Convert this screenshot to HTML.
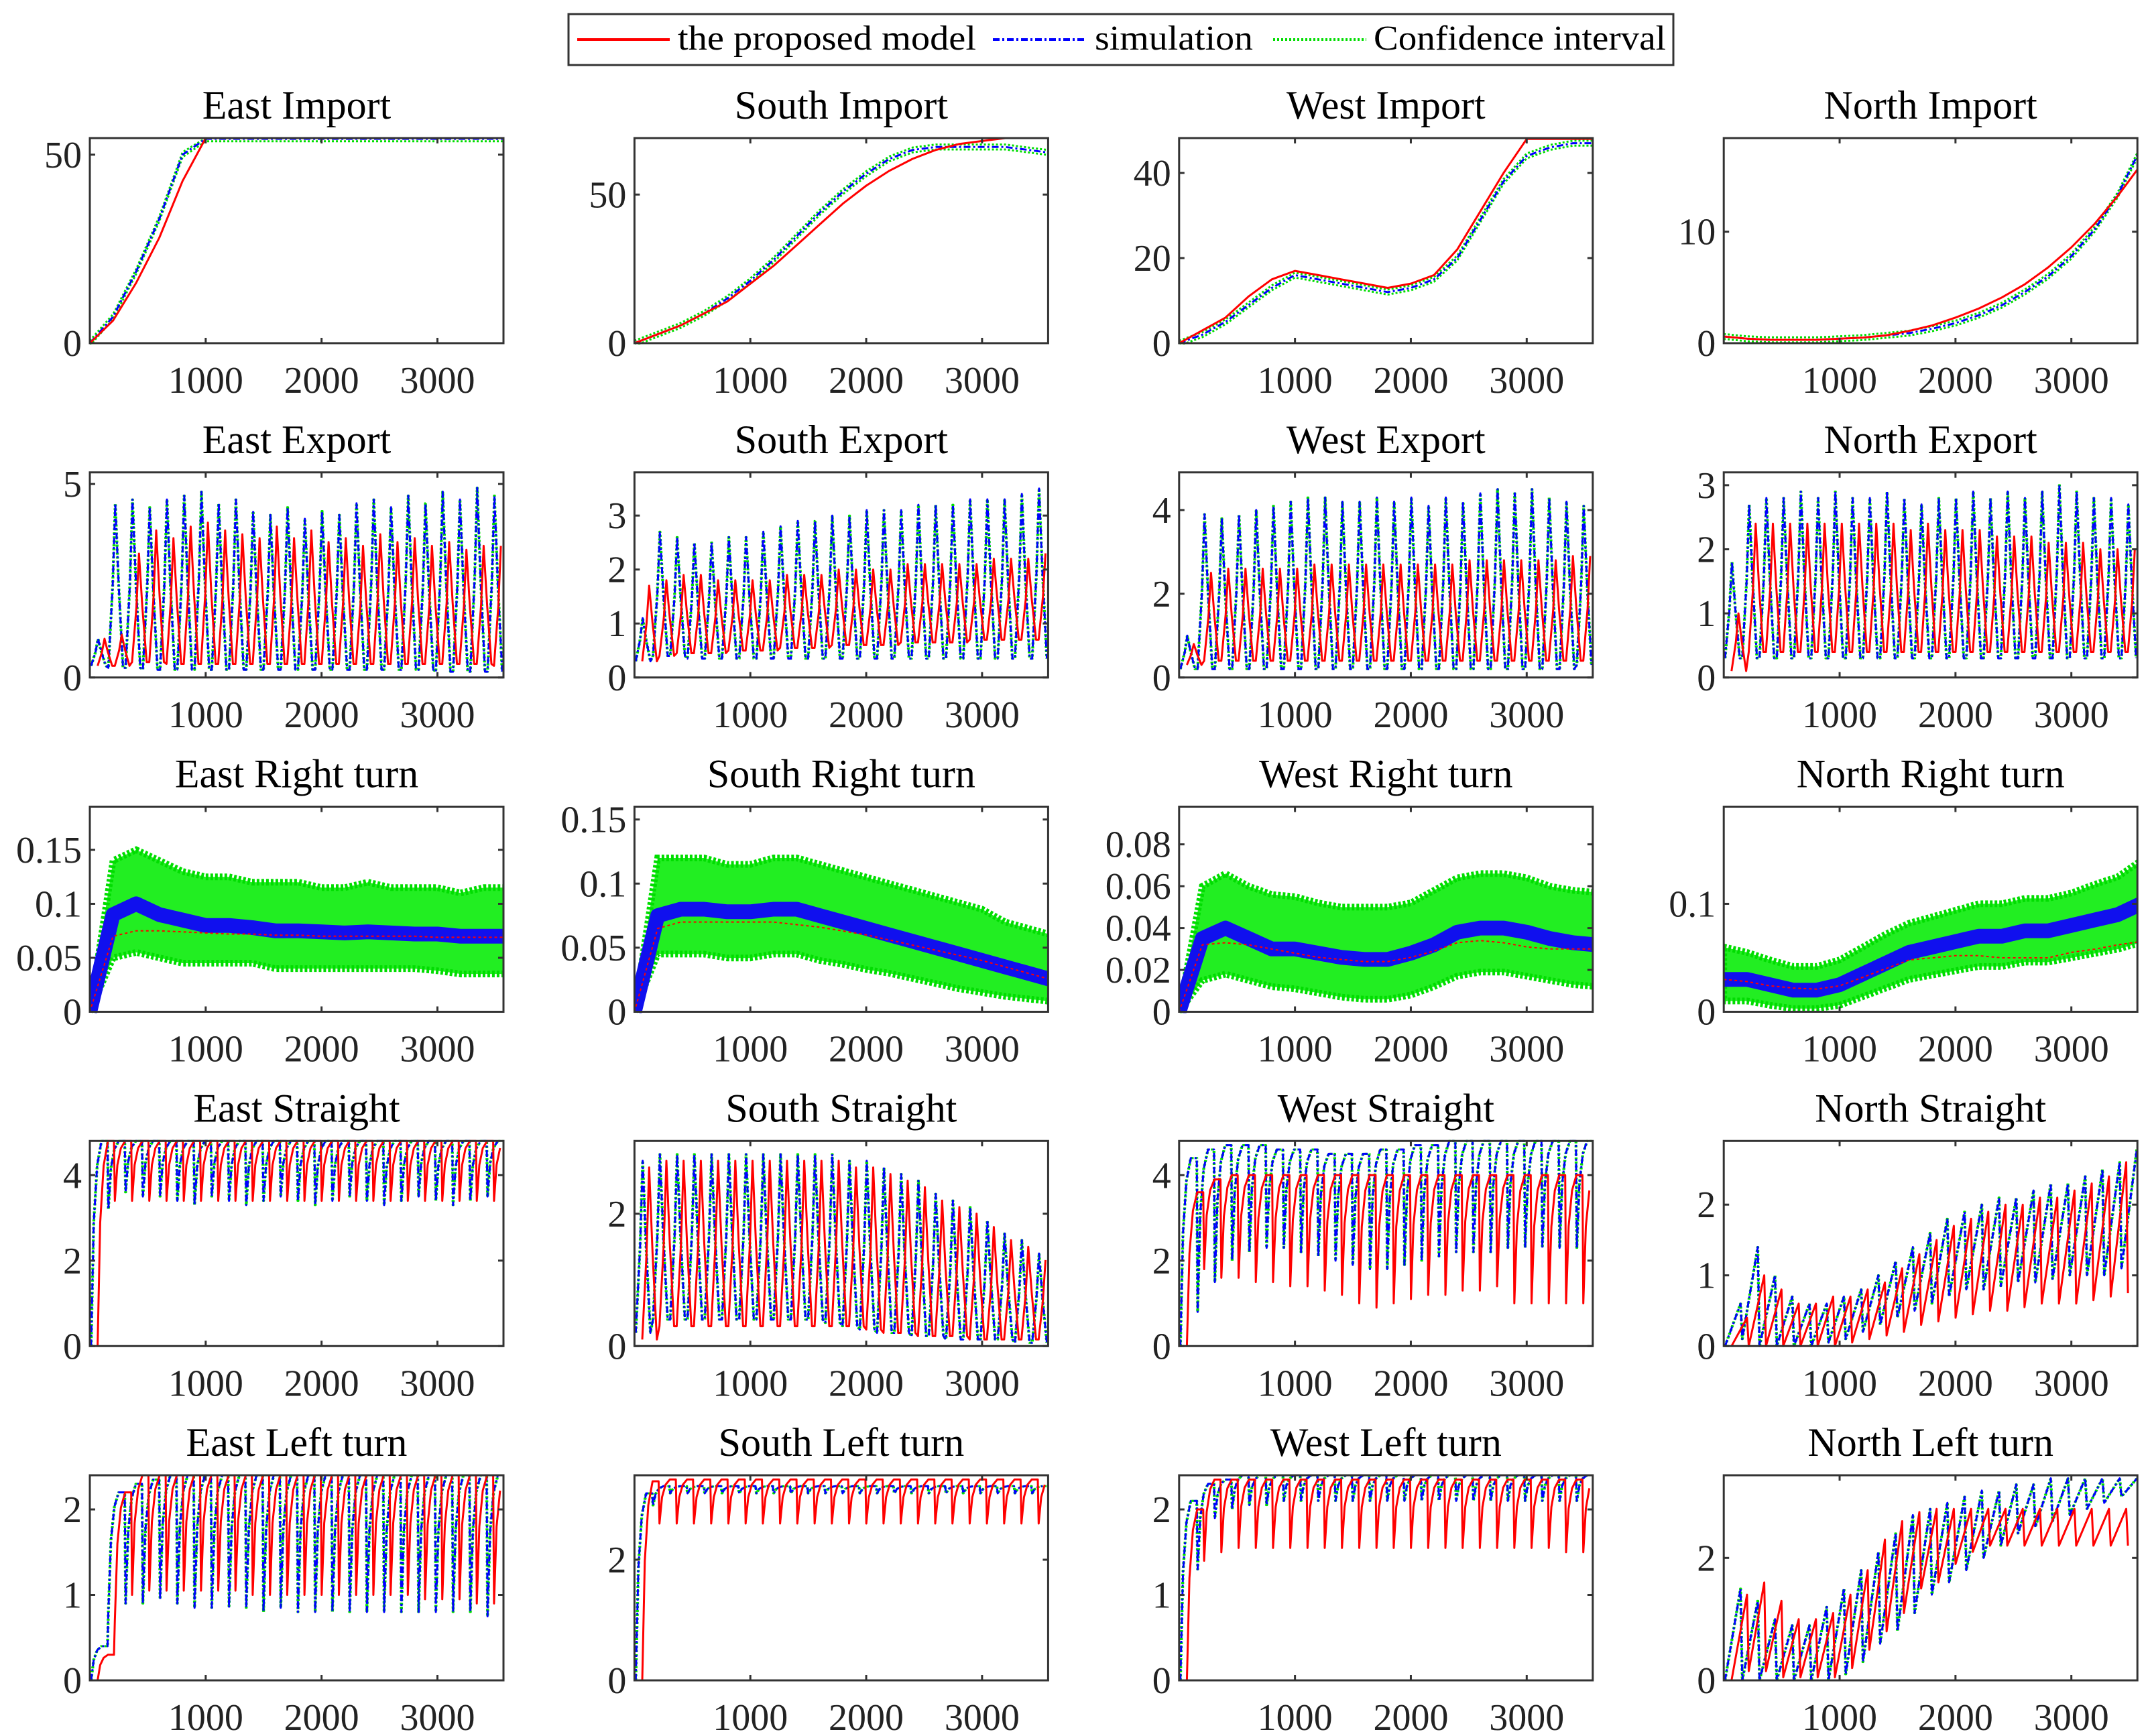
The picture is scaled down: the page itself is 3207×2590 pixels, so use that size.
<!DOCTYPE html>
<html><head><meta charset="utf-8"><title>Traffic model vs simulation</title>
<style>
html,body{margin:0;padding:0;background:#fff;}
svg{display:block;font-family:"Liberation Serif",serif;}
</style></head>
<body>
<svg id="fig" width="3207" height="2590" viewBox="0 0 3207 2590" xmlns="http://www.w3.org/2000/svg">
<g>
<rect x="848" y="21" width="1648" height="76" fill="#fff" stroke="#333" stroke-width="3"/>
<line x1="861" y1="59" x2="999" y2="59" stroke="#ff0000" stroke-width="4"/>
<text x="1011" y="74" font-size="52" textLength="445" lengthAdjust="spacingAndGlyphs">the proposed model</text>
<line x1="1481" y1="59" x2="1620" y2="59" stroke="#0000ff" stroke-width="4" stroke-dasharray="10,4,3,4"/>
<text x="1633" y="74" font-size="52" textLength="236" lengthAdjust="spacingAndGlyphs">simulation</text>
<line x1="1899" y1="59" x2="2038" y2="59" stroke="#00dd00" stroke-width="4" stroke-dasharray="3,3"/>
<text x="2049" y="74" font-size="52" textLength="436" lengthAdjust="spacingAndGlyphs">Confidence interval</text>
</g>
</svg>
<script>
// ---------- data ----------
const xMax = 3570;
const xTicks = [1000, 2000, 3000];
const titles = [
 ["East Import","South Import","West Import","North Import"],
 ["East Export","South Export","West Export","North Export"],
 ["East Right turn","South Right turn","West Right turn","North Right turn"],
 ["East Straight","South Straight","West Straight","North Straight"],
 ["East Left turn","South Left turn","West Left turn","North Left turn"]];
const yMaxes = [[54.4,69,48.2,18.4],[5.3,3.8,4.9,3.2],[0.19,0.16,0.098,0.19],[4.8,3.1,4.8,2.9],[2.4,3.4,2.4,3.35]];
const yTickVals = [[[0,50],[0,50],[0,20,40],[0,10]],
 [[0,5],[0,1,2,3],[0,2,4],[0,1,2,3]],
 [[0,0.05,0.1,0.15],[0,0.05,0.1,0.15],[0,0.02,0.04,0.06,0.08],[0,0.1]],
 [[0,2,4],[0,2],[0,2,4],[0,1,2]],
 [[0,1,2],[0,2],[0,1,2],[0,2]]];

// Row 1: smooth import curves sampled every 200 s (0..3600)
const impX = [0,200,400,600,800,1000,1200,1400,1600,1800,2000,2200,2400,2600,2800,3000,3200,3400,3600];
const eastImpRed = [0,6,16,28,43,54.4,54.4,54.4,54.4,54.4,54.4,54.4,54.4,54.4,54.4,54.4,54.4,54.4,54.4];
const eastImpSim = [0,7,19,33,50,54.2,54.2,54.2,54.2,54.2,54.2,54.2,54.2,54.2,54.2,54.2,54.2,54.2,54.2];
const southImpRed = [0,3,6,10,14,20,26,33,40,47,53,58,62,65,67,68,69,69,69];
const southImpSim = [0,3,6,10,15,21,28,36,44,51,57,62,65,66,66,66,66,65,64];
const westImpRed = [0,3,6,11,15,17,16,15,14,13,14,16,22,31,40,48,48,48,48];
const westImpSim = [0,2,5,9,13,16,15,14,13,12,13,15,20,29,38,44,46,47,47];
const northImpRed = [0.6,0.4,0.3,0.3,0.3,0.4,0.5,0.7,1.1,1.6,2.3,3.1,4.1,5.3,6.8,8.6,10.7,13.2,16];
const northImpSim = [0.6,0.4,0.3,0.3,0.3,0.4,0.5,0.7,0.9,1.3,1.8,2.5,3.4,4.6,6.0,7.8,10.2,13.3,17.5];

// Row 3: right turn (noisy) – mean of model, simulation, CI bounds, every 200 s
const eastRtRed = [0,0.07,0.075,0.075,0.074,0.073,0.072,0.072,0.071,0.071,0.07,0.07,0.07,0.07,0.07,0.069,0.069,0.069,0.069];
const eastRtSim = [0,0.09,0.1,0.09,0.085,0.08,0.08,0.078,0.075,0.075,0.074,0.073,0.074,0.073,0.072,0.072,0.07,0.07,0.07];
const eastRtHi = [0,0.14,0.15,0.14,0.13,0.125,0.125,0.12,0.12,0.12,0.115,0.115,0.12,0.115,0.115,0.115,0.11,0.115,0.115];
const eastRtLo = [0,0.05,0.055,0.05,0.045,0.045,0.045,0.045,0.04,0.04,0.04,0.04,0.04,0.04,0.04,0.038,0.035,0.035,0.035];
const southRtRed = [0,0.065,0.07,0.07,0.07,0.07,0.07,0.068,0.066,0.063,0.06,0.056,0.052,0.048,0.044,0.04,0.035,0.03,0.025];
const southRtSim = [0,0.075,0.08,0.08,0.078,0.078,0.08,0.08,0.075,0.07,0.065,0.06,0.055,0.05,0.045,0.04,0.035,0.03,0.025];
const southRtHi = [0,0.12,0.12,0.12,0.115,0.115,0.12,0.12,0.115,0.11,0.105,0.1,0.095,0.09,0.085,0.08,0.07,0.065,0.06];
const southRtLo = [0,0.045,0.045,0.045,0.042,0.042,0.045,0.045,0.04,0.037,0.033,0.03,0.026,0.022,0.018,0.015,0.012,0.01,0.008];
const westRtRed = [0,0.032,0.033,0.032,0.03,0.028,0.026,0.025,0.024,0.024,0.026,0.029,0.033,0.034,0.033,0.031,0.03,0.03,0.03];
const westRtSim = [0,0.035,0.04,0.035,0.03,0.03,0.028,0.026,0.025,0.025,0.028,0.032,0.038,0.04,0.04,0.038,0.035,0.033,0.032];
const westRtHi = [0,0.06,0.066,0.06,0.056,0.055,0.052,0.05,0.05,0.05,0.052,0.058,0.064,0.066,0.066,0.064,0.06,0.058,0.057];
const westRtLo = [0,0.015,0.018,0.015,0.012,0.011,0.009,0.007,0.006,0.006,0.008,0.012,0.017,0.019,0.019,0.017,0.015,0.013,0.012];
const northRtRed = [0.03,0.028,0.024,0.022,0.021,0.024,0.032,0.04,0.048,0.05,0.052,0.052,0.05,0.05,0.05,0.055,0.058,0.062,0.065];
const northRtSim = [0.03,0.03,0.025,0.02,0.02,0.025,0.035,0.045,0.055,0.06,0.065,0.07,0.07,0.075,0.075,0.08,0.085,0.09,0.1];
const northRtHi = [0.06,0.055,0.048,0.042,0.042,0.048,0.06,0.072,0.082,0.088,0.094,0.1,0.1,0.105,0.105,0.11,0.118,0.125,0.14];
const northRtLo = [0.01,0.01,0.006,0.003,0.003,0.006,0.014,0.022,0.03,0.034,0.038,0.042,0.042,0.046,0.046,0.05,0.054,0.058,0.064];

// Rows 2,4,5: cyclic series – per-cycle peak / trough values (24 cycles)
const eeRedP = [1.0,1.1,3.2,3.8,3.6,3.9,4.0,3.8,3.7,3.6,3.9,3.6,3.8,3.5,3.6,3.4,3.7,3.5,3.6,3.4,3.5,3.3,3.4,3.4];
const eeRedT = [0.3,0.3,0.4,0.4,0.35,0.35,0.35,0.35,0.35,0.35,0.35,0.35,0.35,0.35,0.35,0.35,0.35,0.35,0.35,0.35,0.35,0.35,0.35,0.3];
const eeSimP = [1.0,4.5,4.6,4.4,4.6,4.7,4.8,4.5,4.6,4.3,4.2,4.4,4.1,4.3,4.2,4.5,4.6,4.4,4.7,4.5,4.8,4.6,4.9,4.7];
const eeSimT = [0.3,0.25,0.25,0.2,0.2,0.2,0.2,0.2,0.2,0.2,0.2,0.2,0.2,0.2,0.2,0.2,0.2,0.2,0.2,0.2,0.15,0.15,0.15,0.15];
const seRedP = [1.7,1.8,1.9,1.9,1.8,1.8,1.8,1.8,1.9,1.9,1.9,2.0,2.0,2.0,2.0,2.1,2.1,2.1,2.1,2.1,2.2,2.2,2.2,2.3];
const seRedT = [0.3,0.4,0.45,0.45,0.45,0.5,0.5,0.5,0.55,0.55,0.55,0.6,0.6,0.6,0.6,0.65,0.65,0.65,0.65,0.7,0.7,0.7,0.7,0.7];
const seSimP = [1.1,2.7,2.6,2.5,2.5,2.6,2.6,2.7,2.8,2.9,2.9,3.0,3.0,3.1,3.1,3.1,3.2,3.2,3.2,3.3,3.3,3.3,3.4,3.5];
const seSimT = [0.3,0.4,0.4,0.35,0.35,0.35,0.35,0.35,0.35,0.35,0.35,0.35,0.35,0.35,0.35,0.35,0.35,0.35,0.35,0.35,0.35,0.35,0.35,0.35];
const weRedP = [0.8,2.5,2.6,2.6,2.6,2.6,2.6,2.7,2.7,2.7,2.7,2.7,2.7,2.7,2.7,2.7,2.8,2.8,2.8,2.8,2.8,2.8,2.9,2.9];
const weRedT = [0.3,0.4,0.4,0.4,0.4,0.4,0.4,0.4,0.4,0.4,0.4,0.4,0.4,0.4,0.4,0.4,0.4,0.4,0.4,0.4,0.4,0.4,0.4,0.4];
const weSimP = [1.0,3.9,3.8,3.9,4.0,4.1,4.2,4.3,4.3,4.2,4.2,4.3,4.2,4.3,4.1,4.3,4.2,4.4,4.5,4.4,4.5,4.3,4.2,4.1];
const weSimT = [0.2,0.2,0.2,0.2,0.2,0.2,0.2,0.2,0.2,0.2,0.2,0.2,0.2,0.2,0.2,0.2,0.2,0.2,0.2,0.2,0.2,0.2,0.2,0.3];
const neRedP = [1.0,2.4,2.4,2.4,2.4,2.4,2.4,2.4,2.4,2.4,2.3,2.4,2.3,2.3,2.3,2.2,2.2,2.2,2.1,2.1,2.1,2.0,2.0,2.0];
const neRedT = [0.1,0.4,0.4,0.4,0.4,0.4,0.4,0.4,0.4,0.4,0.4,0.4,0.4,0.4,0.4,0.4,0.4,0.4,0.4,0.4,0.4,0.4,0.4,0.4];
const neSimP = [1.8,2.7,2.8,2.8,2.9,2.8,2.9,2.8,2.8,2.9,2.8,2.7,2.8,2.8,2.9,2.8,2.9,2.8,2.9,3.0,2.9,2.8,2.8,2.7];
const neSimT = [0.3,0.3,0.3,0.3,0.3,0.3,0.3,0.3,0.3,0.3,0.3,0.3,0.3,0.3,0.3,0.3,0.3,0.3,0.3,0.3,0.3,0.3,0.3,0.3];

const esRedP = [4.8,4.8,4.8,4.8,4.8,4.8,4.8,4.8,4.8,4.8,4.8,4.8,4.8,4.8,4.8,4.8,4.8,4.8,4.8,4.8,4.8,4.8,4.8,4.8];
const esRedT = [0,3.4,3.4,3.4,3.4,3.4,3.4,3.4,3.4,3.4,3.4,3.4,3.4,3.4,3.4,3.4,3.4,3.4,3.4,3.4,3.4,3.4,3.4,3.4];
const esSimP = [4.8,4.8,4.8,4.8,4.8,4.8,4.8,4.8,4.8,4.8,4.8,4.8,4.8,4.8,4.8,4.8,4.8,4.8,4.8,4.8,4.8,4.8,4.8,4.8];
const esSimT = [0,3.2,3.6,3.5,3.5,3.4,3.3,3.5,3.4,3.3,3.4,3.5,3.4,3.3,3.4,3.5,3.4,3.3,3.4,3.5,3.4,3.3,3.4,3.5];
const ssRedP = [2.7,2.8,2.8,2.8,2.8,2.8,2.8,2.8,2.8,2.8,2.8,2.8,2.7,2.7,2.6,2.5,2.4,2.2,2.1,2.0,1.8,1.6,1.5,1.3];
const ssRedT = [0.1,0.3,0.3,0.3,0.3,0.3,0.3,0.3,0.3,0.3,0.3,0.3,0.3,0.25,0.2,0.2,0.15,0.15,0.15,0.1,0.1,0.1,0.1,0.1];
const ssSimP = [2.8,2.9,2.9,2.9,2.9,2.9,2.9,2.9,2.9,2.9,2.9,2.9,2.8,2.8,2.7,2.6,2.5,2.3,2.2,2.1,1.9,1.7,1.6,1.4];
const ssSimT = [0.2,0.4,0.4,0.4,0.4,0.4,0.4,0.4,0.4,0.4,0.4,0.35,0.3,0.25,0.2,0.2,0.15,0.15,0.1,0.1,0.1,0.1,0.05,0.05];
const wsRedP = [3.6,3.9,4.0,4.0,4.0,4.0,4.0,4.0,4.0,4.0,4.0,4.0,4.0,4.0,4.0,4.0,4.0,4.0,4.0,4.0,4.0,4.0,4.0,4.0];
const wsRedT = [0,1.8,1.6,1.6,1.5,1.5,1.4,1.4,1.3,1.2,1.0,0.9,1.0,1.1,1.2,1.2,1.3,1.3,1.4,1.0,1.0,1.0,1.0,1.0];
const wsSimP = [4.4,4.6,4.7,4.7,4.7,4.6,4.6,4.6,4.5,4.5,4.5,4.6,4.6,4.7,4.7,4.8,4.8,4.8,4.8,4.8,4.8,4.8,4.8,4.8];
const wsSimT = [0,0.8,1.5,2.0,2.2,2.3,2.3,2.2,2.1,2.0,1.9,1.8,1.8,1.9,2.0,2.1,2.2,2.2,2.2,2.3,2.3,2.3,2.3,2.3];
const nsRedP = [0.4,1.0,0.8,0.6,0.6,0.7,0.7,0.8,0.9,1.1,1.3,1.5,1.7,1.8,1.9,2.0,2.0,2.1,2.1,2.2,2.3,2.4,2.6,2.8];
const nsRedT = [0,0,0,0,0,0,0,0.05,0.1,0.15,0.2,0.3,0.35,0.4,0.45,0.5,0.5,0.55,0.6,0.6,0.6,0.65,0.7,0.75];
const nsSimP = [0.6,1.4,1.0,0.7,0.6,0.6,0.7,0.8,1.0,1.2,1.4,1.6,1.8,1.9,2.0,2.1,2.1,2.2,2.3,2.3,2.4,2.5,2.6,2.8];
const nsSimT = [0,0.1,0,0,0,0,0.05,0.1,0.2,0.3,0.4,0.5,0.6,0.7,0.8,0.8,0.85,0.9,0.9,0.95,1.0,1.0,1.0,1.1];

const elRedP = [0.3,2.2,2.4,2.4,2.4,2.4,2.4,2.4,2.4,2.4,2.4,2.4,2.4,2.4,2.4,2.4,2.4,2.4,2.4,2.4,2.4,2.4,2.4,2.4];
const elRedT = [0,0.7,1.0,1.05,1.05,1.05,1.05,1.05,1.05,1.0,1.0,1.0,1.0,1.0,1.0,1.0,1.0,1.0,1.0,0.95,0.95,0.95,0.9,0.9];
const elSimP = [0.4,2.2,2.3,2.35,2.4,2.4,2.4,2.4,2.4,2.4,2.4,2.4,2.4,2.4,2.4,2.4,2.4,2.4,2.4,2.4,2.4,2.4,2.4,2.4];
const elSimT = [0,0.8,0.9,0.9,0.95,0.9,0.85,0.85,0.85,0.85,0.8,0.85,0.8,0.8,0.8,0.8,0.8,0.8,0.8,0.8,0.8,0.8,0.8,0.75];
const slRedP = [3.3,3.33,3.33,3.33,3.33,3.33,3.33,3.33,3.33,3.33,3.33,3.33,3.33,3.33,3.33,3.33,3.33,3.33,3.33,3.33,3.33,3.33,3.33,3.33];
const slRedT = [0,2.6,2.6,2.6,2.6,2.6,2.6,2.6,2.6,2.6,2.6,2.6,2.6,2.6,2.6,2.6,2.6,2.6,2.6,2.6,2.6,2.6,2.6,2.6];
const slSimP = [3.1,3.22,3.22,3.22,3.22,3.22,3.22,3.22,3.22,3.22,3.22,3.22,3.22,3.22,3.22,3.22,3.22,3.22,3.22,3.22,3.22,3.22,3.22,3.22];
const slSimT = [0,2.9,3.1,3.1,3.1,3.1,3.1,3.1,3.1,3.1,3.1,3.1,3.1,3.1,3.1,3.1,3.1,3.1,3.1,3.1,3.1,3.1,3.1,3.1];
const wlRedP = [2.0,2.35,2.35,2.35,2.35,2.35,2.35,2.35,2.35,2.35,2.35,2.35,2.35,2.35,2.35,2.35,2.35,2.35,2.35,2.35,2.35,2.35,2.35,2.35];
const wlRedT = [0,1.4,1.5,1.55,1.55,1.55,1.55,1.55,1.55,1.55,1.55,1.55,1.55,1.55,1.55,1.55,1.55,1.55,1.55,1.55,1.55,1.55,1.5,1.5];
const wlSimP = [2.1,2.3,2.35,2.4,2.4,2.4,2.4,2.4,2.4,2.4,2.4,2.4,2.4,2.4,2.4,2.4,2.4,2.4,2.4,2.4,2.4,2.4,2.4,2.4];
const wlSimT = [0,1.3,1.9,2.0,2.05,2.05,2.1,2.1,2.1,2.1,2.1,2.1,2.1,2.1,2.1,2.1,2.1,2.1,2.1,2.1,2.1,2.1,2.1,2.1];
const nlRedP = [1.4,1.6,1.3,1.0,1.0,1.1,1.4,1.8,2.3,2.6,2.75,2.8,2.8,2.8,2.8,2.8,2.8,2.8,2.8,2.8,2.8,2.8,2.8,2.8];
const nlRedT = [0,0.15,0.15,0.05,0.05,0.05,0.05,0.2,0.5,0.8,1.1,1.5,1.6,1.9,2.1,2.2,2.2,2.2,2.2,2.2,2.2,2.2,2.2,2.2];
const nlSimP = [1.5,1.3,1.0,0.9,0.9,1.2,1.5,1.8,2.1,2.4,2.7,2.8,2.9,3.0,3.1,3.1,3.2,3.2,3.3,3.3,3.3,3.3,3.3,3.3];
const nlSimT = [0,0,0,0,0,0,0,0.1,0.3,0.6,0.8,1.1,1.4,1.6,1.8,2.0,2.2,2.4,2.5,2.6,2.7,2.8,2.9,3.0];

// ---------- drawing ----------
const svg = document.getElementById('fig');
const NS = 'http://www.w3.org/2000/svg';
const W = 617, H = 306;
function mk(tag, attrs, parent){ const e=document.createElementNS(NS,tag); for(const k in attrs) e.setAttribute(k,attrs[k]); parent.appendChild(e); return e; }
function fmt(v){ return String(v); }

function smoothPts(xs, ys){ return xs.map((x,i)=>[x, ys[i]]); }
function cyclePts(P, T, shape, phase){
  const n=P.length, per=xMax/n, pts=[];
  for(let i=0;i<n;i++){
    const s=i*per+phase*per;
    if(shape==='spike'){
      pts.push([s,T[i]]); pts.push([s+0.25*per,P[i]*0.5+T[i]*0.5]); pts.push([s+0.4*per,P[i]]); pts.push([s+0.6*per,(P[i]+T[i])/2]); pts.push([s+0.85*per,T[i]]);
    } else if(shape==='dip'){
      pts.push([s,T[i]]); pts.push([s+0.15*per,T[i]+(P[i]-T[i])*0.6]); pts.push([s+0.35*per,T[i]+(P[i]-T[i])*0.88]); pts.push([s+0.6*per,P[i]]); pts.push([s+0.95*per,P[i]]);
    } else {
      pts.push([s,T[i]]); pts.push([s+0.9*per,P[i]]);
    }
  }
  return pts.filter(p=>p[0]<=xMax);
}

function panel(r,c){
  const x0 = 134 + c*812.4, y0 = 206 + r*498.75;
  const ym = yMaxes[r][c];
  const sx = v => x0 + v/xMax*W;
  const sy = v => y0 + H - Math.min(v,ym)/ym*H;
  const g = mk('g',{},svg);
  
  
  const t = mk('text',{x:x0+W/2,y:y0-29,'font-size':60,'text-anchor':'middle',fill:'#000'},g);
  t.textContent = titles[r][c];
  
  
  const clipId='clip'+r+c;
  const cp=mk('clipPath',{id:clipId},g); mk('rect',{x:x0,y:y0-2,width:W,height:H+4},cp);
  const plot=mk('g',{'clip-path':'url(#'+clipId+')'},g);
  
  
  const path = pts => pts.map((p,i)=>(i?'L':'M')+sx(p[0]).toFixed(1)+','+sy(p[1]).toFixed(1)).join('');
  const line=(pts,col,dash,w,name)=>{ const e=mk('path',{d:path(pts),fill:'none',stroke:col,'stroke-width':w,'stroke-dasharray':dash||'none','stroke-linejoin':'round'},plot);
    
     return e; };

  if(r===0){
    const sets=[[eastImpRed,eastImpSim],[southImpRed,southImpSim],[westImpRed,westImpSim],[northImpRed,northImpSim]][c];
    const sim=smoothPts(impX,sets[1]);
    line(sim.map(p=>[p[0],p[1]+ym*0.012]),'#00dd00','3,3',3,'confidence-upper');
    line(sim.map(p=>[p[0],p[1]-ym*0.012]),'#00dd00','3,3',3,'confidence-lower');
    line(sim,'#0000ff','10,4,3,4',3,'simulation-line');
    line(smoothPts(impX,sets[0]),'#ff0000',null,3,'model-line');
  } else if(r===2){
    const sets=[[eastRtRed,eastRtSim,eastRtHi,eastRtLo],[southRtRed,southRtSim,southRtHi,southRtLo],[westRtRed,westRtSim,westRtHi,westRtLo],[northRtRed,northRtSim,northRtHi,northRtLo]][c];
    const hi=smoothPts(impX,sets[2]), lo=smoothPts(impX,sets[3]).reverse();
    const band=mk('path',{d:path(hi.concat(lo))+'Z',fill:'#22ee22',stroke:'#00dd00','stroke-width':10,'stroke-dasharray':'4,3'},plot);
    
    
    line(smoothPts(impX,sets[1]),'#1010ee',null,22,'simulation-line');
    line(smoothPts(impX,sets[0]),'#ff0000','4,4',2,'model-line');
  } else {
    const all={1:[[eeRedP,eeRedT,eeSimP,eeSimT],[seRedP,seRedT,seSimP,seSimT],[weRedP,weRedT,weSimP,weSimT],[neRedP,neRedT,neSimP,neSimT]],
      3:[[esRedP,esRedT,esSimP,esSimT],[ssRedP,ssRedT,ssSimP,ssSimT],[wsRedP,wsRedT,wsSimP,wsSimT],[nsRedP,nsRedT,nsSimP,nsSimT]],
      4:[[elRedP,elRedT,elSimP,elSimT],[slRedP,slRedT,slSimP,slSimT],[wlRedP,wlRedT,wlSimP,wlSimT],[nlRedP,nlRedT,nlSimP,nlSimT]]};
    const s=all[r][c];
    let shape = r===1 ? 'spike' : 'dip';
    if(r===3 && c===1) shape='spike';
    if(r===4 && c===3) shape='saw';
    if(r===3 && c===3) shape='saw';
    line(cyclePts(s[2],s[3],shape,0.05),'#00dd00','3,3',3,'confidence-upper');
    line(cyclePts(s[2],s[3],shape,0.1),'#00dd00','3,3',3,'confidence-lower');
    line(cyclePts(s[2],s[3],shape,0.075),'#0000ff','10,4,3,4',3,'simulation-line');
    line(cyclePts(s[0],s[1],shape,0.45),'#ff0000',null,3,'model-line');
  }
  const box=mk('rect',{x:x0,y:y0,width:W,height:H,fill:'none',stroke:'#333','stroke-width':3},g);
  
  
  xTicks.forEach(v=>{
    const x=sx(v);
    mk('line',{x1:x,y1:y0+H,x2:x,y2:y0+H-8,stroke:'#333','stroke-width':3},g);
    mk('line',{x1:x,y1:y0,x2:x,y2:y0+8,stroke:'#333','stroke-width':3},g);
    const tl=mk('text',{x:x,y:y0+H+74,'font-size':56,'text-anchor':'middle',fill:'#222'},g);
    tl.textContent=v;
    
    
  });
  yTickVals[r][c].forEach(v=>{
    const y=sy(v);
    mk('line',{x1:x0,y1:y,x2:x0+8,y2:y,stroke:'#333','stroke-width':3},g);
    mk('line',{x1:x0+W,y1:y,x2:x0+W-8,y2:y,stroke:'#333','stroke-width':3},g);
    const tl=mk('text',{x:x0-12,y:y+19,'font-size':56,'text-anchor':'end',fill:'#222'},g);
    tl.textContent=fmt(v);
    
    
  });
}
for(let r=0;r<5;r++) for(let c=0;c<4;c++) panel(r,c);
</script>
</body></html>
